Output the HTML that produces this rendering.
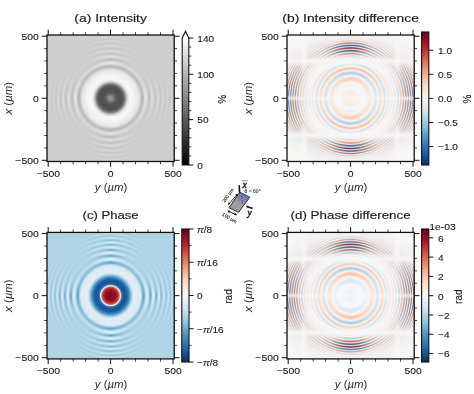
<!DOCTYPE html>
<html><head><meta charset="utf-8"><style>
html,body{margin:0;padding:0;background:#fff;width:474px;height:394px;overflow:hidden;position:relative}
svg{position:absolute;left:0;top:0}
text{font-family:'Liberation Sans', sans-serif;fill:#1a1a1a;stroke:#1a1a1a;stroke-width:0.12px}
.tt{stroke-width:0.15px}
.al{stroke-width:0;fill:#2a2a2a}
</style></head><body>
<canvas id="ca" width="128" height="127" style="position:absolute;left:47px;top:35px;width:128px;height:127px;background:radial-gradient(circle at 63.6px 63.25px,#969696 0,#5c5c5c 9px,#e8e8e8 19px,#f0f0f0 26px,#d0d0d0 34px,#cfcfcf 60px)"></canvas>
<canvas id="cb" width="128" height="127" style="position:absolute;left:287px;top:35px;width:128px;height:127px;background:radial-gradient(circle at 63.6px 63.25px,#f3eeee 0,#f5f1f0 14px,#f6dccd 20px,#d8e6f1 26px,#f7d6c5 31px,#f5f5f5 37px,#ebe3e8 47px,#e6dde6 52px,#f2eff2 60px,#f7f7f7 68px)"></canvas>
<canvas id="cc" width="128" height="127" style="position:absolute;left:47px;top:232px;width:128px;height:127px;background:radial-gradient(circle at 63.6px 63.25px,#b2182b 0,#b2182b 9px,#f7f7f7 11px,#2166ac 15px,#2166ac 20px,#e6eef5 27px,#b0d4e8 34px)"></canvas>
<canvas id="cd" width="128" height="127" style="position:absolute;left:287px;top:232px;width:128px;height:127px;background:radial-gradient(circle at 63.6px 63.25px,#f3eeee 0,#f5f1f0 14px,#f6dccd 20px,#d8e6f1 26px,#f7d6c5 31px,#f5f5f5 37px,#ebe3e8 47px,#e6dde6 52px,#f2eff2 60px,#f7f7f7 68px)"></canvas>
<svg width="474" height="394" viewBox="0 0 474 394">
<defs><linearGradient id="grb" x1="0" y1="0" x2="0" y2="1"><stop offset="0.00" stop-color="#67001f"/><stop offset="0.10" stop-color="#b2182b"/><stop offset="0.20" stop-color="#d6604d"/><stop offset="0.30" stop-color="#f4a582"/><stop offset="0.40" stop-color="#fddbc7"/><stop offset="0.50" stop-color="#f7f7f7"/><stop offset="0.60" stop-color="#d1e5f0"/><stop offset="0.70" stop-color="#92c5de"/><stop offset="0.80" stop-color="#4393c3"/><stop offset="0.90" stop-color="#2166ac"/><stop offset="1.00" stop-color="#053061"/></linearGradient><linearGradient id="ggr" x1="0" y1="0" x2="0" y2="1"><stop offset="0" stop-color="#fff"/><stop offset="1" stop-color="#000"/></linearGradient><linearGradient id="gbl" gradientUnits="userSpaceOnUse" x1="244.85" y1="194.7" x2="238.7" y2="203.5"><stop offset="0" stop-color="#5862c4" stop-opacity="0.8"/><stop offset="1" stop-color="#5862c4" stop-opacity="0.05"/></linearGradient><marker id="ah" viewBox="0 0 6 6" refX="5" refY="3" markerWidth="3" markerHeight="3" orient="auto-start-reverse"><path d="M0,0 L6,3 L0,6 z" fill="#111"/></marker></defs>
<line x1="48.20" y1="161.50" x2="48.20" y2="166.80" stroke="#111" stroke-width="1.0"/>
<line x1="48.20" y1="35.00" x2="48.20" y2="29.70" stroke="#111" stroke-width="1.0"/>
<line x1="47.00" y1="160.30" x2="41.70" y2="160.30" stroke="#111" stroke-width="1.0"/>
<line x1="174.20" y1="160.30" x2="179.50" y2="160.30" stroke="#111" stroke-width="1.0"/>
<line x1="60.68" y1="161.50" x2="60.68" y2="164.30" stroke="#111" stroke-width="0.8"/>
<line x1="60.68" y1="35.00" x2="60.68" y2="32.20" stroke="#111" stroke-width="0.8"/>
<line x1="47.00" y1="147.89" x2="44.20" y2="147.89" stroke="#111" stroke-width="0.8"/>
<line x1="174.20" y1="147.89" x2="177.00" y2="147.89" stroke="#111" stroke-width="0.8"/>
<line x1="73.16" y1="161.50" x2="73.16" y2="164.30" stroke="#111" stroke-width="0.8"/>
<line x1="73.16" y1="35.00" x2="73.16" y2="32.20" stroke="#111" stroke-width="0.8"/>
<line x1="47.00" y1="135.48" x2="44.20" y2="135.48" stroke="#111" stroke-width="0.8"/>
<line x1="174.20" y1="135.48" x2="177.00" y2="135.48" stroke="#111" stroke-width="0.8"/>
<line x1="85.64" y1="161.50" x2="85.64" y2="164.30" stroke="#111" stroke-width="0.8"/>
<line x1="85.64" y1="35.00" x2="85.64" y2="32.20" stroke="#111" stroke-width="0.8"/>
<line x1="47.00" y1="123.07" x2="44.20" y2="123.07" stroke="#111" stroke-width="0.8"/>
<line x1="174.20" y1="123.07" x2="177.00" y2="123.07" stroke="#111" stroke-width="0.8"/>
<line x1="98.12" y1="161.50" x2="98.12" y2="164.30" stroke="#111" stroke-width="0.8"/>
<line x1="98.12" y1="35.00" x2="98.12" y2="32.20" stroke="#111" stroke-width="0.8"/>
<line x1="47.00" y1="110.66" x2="44.20" y2="110.66" stroke="#111" stroke-width="0.8"/>
<line x1="174.20" y1="110.66" x2="177.00" y2="110.66" stroke="#111" stroke-width="0.8"/>
<line x1="110.60" y1="161.50" x2="110.60" y2="166.80" stroke="#111" stroke-width="1.0"/>
<line x1="110.60" y1="35.00" x2="110.60" y2="29.70" stroke="#111" stroke-width="1.0"/>
<line x1="47.00" y1="98.25" x2="41.70" y2="98.25" stroke="#111" stroke-width="1.0"/>
<line x1="174.20" y1="98.25" x2="179.50" y2="98.25" stroke="#111" stroke-width="1.0"/>
<line x1="123.08" y1="161.50" x2="123.08" y2="164.30" stroke="#111" stroke-width="0.8"/>
<line x1="123.08" y1="35.00" x2="123.08" y2="32.20" stroke="#111" stroke-width="0.8"/>
<line x1="47.00" y1="85.84" x2="44.20" y2="85.84" stroke="#111" stroke-width="0.8"/>
<line x1="174.20" y1="85.84" x2="177.00" y2="85.84" stroke="#111" stroke-width="0.8"/>
<line x1="135.56" y1="161.50" x2="135.56" y2="164.30" stroke="#111" stroke-width="0.8"/>
<line x1="135.56" y1="35.00" x2="135.56" y2="32.20" stroke="#111" stroke-width="0.8"/>
<line x1="47.00" y1="73.43" x2="44.20" y2="73.43" stroke="#111" stroke-width="0.8"/>
<line x1="174.20" y1="73.43" x2="177.00" y2="73.43" stroke="#111" stroke-width="0.8"/>
<line x1="148.04" y1="161.50" x2="148.04" y2="164.30" stroke="#111" stroke-width="0.8"/>
<line x1="148.04" y1="35.00" x2="148.04" y2="32.20" stroke="#111" stroke-width="0.8"/>
<line x1="47.00" y1="61.02" x2="44.20" y2="61.02" stroke="#111" stroke-width="0.8"/>
<line x1="174.20" y1="61.02" x2="177.00" y2="61.02" stroke="#111" stroke-width="0.8"/>
<line x1="160.52" y1="161.50" x2="160.52" y2="164.30" stroke="#111" stroke-width="0.8"/>
<line x1="160.52" y1="35.00" x2="160.52" y2="32.20" stroke="#111" stroke-width="0.8"/>
<line x1="47.00" y1="48.61" x2="44.20" y2="48.61" stroke="#111" stroke-width="0.8"/>
<line x1="174.20" y1="48.61" x2="177.00" y2="48.61" stroke="#111" stroke-width="0.8"/>
<line x1="173.00" y1="161.50" x2="173.00" y2="166.80" stroke="#111" stroke-width="1.0"/>
<line x1="173.00" y1="35.00" x2="173.00" y2="29.70" stroke="#111" stroke-width="1.0"/>
<line x1="47.00" y1="36.20" x2="41.70" y2="36.20" stroke="#111" stroke-width="1.0"/>
<line x1="174.20" y1="36.20" x2="179.50" y2="36.20" stroke="#111" stroke-width="1.0"/>
<rect x="47.00" y="35.00" width="127.20" height="126.50" fill="none" stroke="#111" stroke-width="1.3"/>
<g transform="translate(48.30,176.90) scale(1.07,1)"><text x="0" y="0" font-size="9.7" text-anchor="middle" >−500</text></g>
<g transform="translate(38.70,164.00) scale(1.07,1)"><text x="0" y="0" font-size="9.7" text-anchor="end" >−500</text></g>
<g transform="translate(110.70,176.90) scale(1.07,1)"><text x="0" y="0" font-size="9.7" text-anchor="middle" >0</text></g>
<g transform="translate(38.70,101.95) scale(1.07,1)"><text x="0" y="0" font-size="9.7" text-anchor="end" >0</text></g>
<g transform="translate(173.10,176.90) scale(1.07,1)"><text x="0" y="0" font-size="9.7" text-anchor="middle" >500</text></g>
<g transform="translate(38.70,39.90) scale(1.07,1)"><text x="0" y="0" font-size="9.7" text-anchor="end" >500</text></g>
<text x="111.10" y="190.90" font-size="10" text-anchor="middle" class="al" textLength="32.5" lengthAdjust="spacingAndGlyphs"><tspan font-style="italic">y</tspan> (<tspan font-style="italic">µm</tspan>)</text>
<g transform="translate(11.50,98.25) rotate(-90)"><text x="0" y="0" class="al" font-size="10" text-anchor="middle" textLength="32.5" lengthAdjust="spacingAndGlyphs"><tspan font-style="italic">x</tspan> (<tspan font-style="italic">µm</tspan>)</text></g>
<text x="110.60" y="21.70" font-size="11" text-anchor="middle" class="tt" textLength="72.5" lengthAdjust="spacingAndGlyphs">(a) Intensity</text>
<line x1="288.20" y1="161.50" x2="288.20" y2="166.80" stroke="#111" stroke-width="1.0"/>
<line x1="288.20" y1="35.00" x2="288.20" y2="29.70" stroke="#111" stroke-width="1.0"/>
<line x1="287.00" y1="160.30" x2="281.70" y2="160.30" stroke="#111" stroke-width="1.0"/>
<line x1="414.20" y1="160.30" x2="419.50" y2="160.30" stroke="#111" stroke-width="1.0"/>
<line x1="300.68" y1="161.50" x2="300.68" y2="164.30" stroke="#111" stroke-width="0.8"/>
<line x1="300.68" y1="35.00" x2="300.68" y2="32.20" stroke="#111" stroke-width="0.8"/>
<line x1="287.00" y1="147.89" x2="284.20" y2="147.89" stroke="#111" stroke-width="0.8"/>
<line x1="414.20" y1="147.89" x2="417.00" y2="147.89" stroke="#111" stroke-width="0.8"/>
<line x1="313.16" y1="161.50" x2="313.16" y2="164.30" stroke="#111" stroke-width="0.8"/>
<line x1="313.16" y1="35.00" x2="313.16" y2="32.20" stroke="#111" stroke-width="0.8"/>
<line x1="287.00" y1="135.48" x2="284.20" y2="135.48" stroke="#111" stroke-width="0.8"/>
<line x1="414.20" y1="135.48" x2="417.00" y2="135.48" stroke="#111" stroke-width="0.8"/>
<line x1="325.64" y1="161.50" x2="325.64" y2="164.30" stroke="#111" stroke-width="0.8"/>
<line x1="325.64" y1="35.00" x2="325.64" y2="32.20" stroke="#111" stroke-width="0.8"/>
<line x1="287.00" y1="123.07" x2="284.20" y2="123.07" stroke="#111" stroke-width="0.8"/>
<line x1="414.20" y1="123.07" x2="417.00" y2="123.07" stroke="#111" stroke-width="0.8"/>
<line x1="338.12" y1="161.50" x2="338.12" y2="164.30" stroke="#111" stroke-width="0.8"/>
<line x1="338.12" y1="35.00" x2="338.12" y2="32.20" stroke="#111" stroke-width="0.8"/>
<line x1="287.00" y1="110.66" x2="284.20" y2="110.66" stroke="#111" stroke-width="0.8"/>
<line x1="414.20" y1="110.66" x2="417.00" y2="110.66" stroke="#111" stroke-width="0.8"/>
<line x1="350.60" y1="161.50" x2="350.60" y2="166.80" stroke="#111" stroke-width="1.0"/>
<line x1="350.60" y1="35.00" x2="350.60" y2="29.70" stroke="#111" stroke-width="1.0"/>
<line x1="287.00" y1="98.25" x2="281.70" y2="98.25" stroke="#111" stroke-width="1.0"/>
<line x1="414.20" y1="98.25" x2="419.50" y2="98.25" stroke="#111" stroke-width="1.0"/>
<line x1="363.08" y1="161.50" x2="363.08" y2="164.30" stroke="#111" stroke-width="0.8"/>
<line x1="363.08" y1="35.00" x2="363.08" y2="32.20" stroke="#111" stroke-width="0.8"/>
<line x1="287.00" y1="85.84" x2="284.20" y2="85.84" stroke="#111" stroke-width="0.8"/>
<line x1="414.20" y1="85.84" x2="417.00" y2="85.84" stroke="#111" stroke-width="0.8"/>
<line x1="375.56" y1="161.50" x2="375.56" y2="164.30" stroke="#111" stroke-width="0.8"/>
<line x1="375.56" y1="35.00" x2="375.56" y2="32.20" stroke="#111" stroke-width="0.8"/>
<line x1="287.00" y1="73.43" x2="284.20" y2="73.43" stroke="#111" stroke-width="0.8"/>
<line x1="414.20" y1="73.43" x2="417.00" y2="73.43" stroke="#111" stroke-width="0.8"/>
<line x1="388.04" y1="161.50" x2="388.04" y2="164.30" stroke="#111" stroke-width="0.8"/>
<line x1="388.04" y1="35.00" x2="388.04" y2="32.20" stroke="#111" stroke-width="0.8"/>
<line x1="287.00" y1="61.02" x2="284.20" y2="61.02" stroke="#111" stroke-width="0.8"/>
<line x1="414.20" y1="61.02" x2="417.00" y2="61.02" stroke="#111" stroke-width="0.8"/>
<line x1="400.52" y1="161.50" x2="400.52" y2="164.30" stroke="#111" stroke-width="0.8"/>
<line x1="400.52" y1="35.00" x2="400.52" y2="32.20" stroke="#111" stroke-width="0.8"/>
<line x1="287.00" y1="48.61" x2="284.20" y2="48.61" stroke="#111" stroke-width="0.8"/>
<line x1="414.20" y1="48.61" x2="417.00" y2="48.61" stroke="#111" stroke-width="0.8"/>
<line x1="413.00" y1="161.50" x2="413.00" y2="166.80" stroke="#111" stroke-width="1.0"/>
<line x1="413.00" y1="35.00" x2="413.00" y2="29.70" stroke="#111" stroke-width="1.0"/>
<line x1="287.00" y1="36.20" x2="281.70" y2="36.20" stroke="#111" stroke-width="1.0"/>
<line x1="414.20" y1="36.20" x2="419.50" y2="36.20" stroke="#111" stroke-width="1.0"/>
<rect x="287.00" y="35.00" width="127.20" height="126.50" fill="none" stroke="#111" stroke-width="1.3"/>
<g transform="translate(288.30,176.90) scale(1.07,1)"><text x="0" y="0" font-size="9.7" text-anchor="middle" >−500</text></g>
<g transform="translate(278.70,164.00) scale(1.07,1)"><text x="0" y="0" font-size="9.7" text-anchor="end" >−500</text></g>
<g transform="translate(350.70,176.90) scale(1.07,1)"><text x="0" y="0" font-size="9.7" text-anchor="middle" >0</text></g>
<g transform="translate(278.70,101.95) scale(1.07,1)"><text x="0" y="0" font-size="9.7" text-anchor="end" >0</text></g>
<g transform="translate(413.10,176.90) scale(1.07,1)"><text x="0" y="0" font-size="9.7" text-anchor="middle" >500</text></g>
<g transform="translate(278.70,39.90) scale(1.07,1)"><text x="0" y="0" font-size="9.7" text-anchor="end" >500</text></g>
<text x="351.10" y="190.90" font-size="10" text-anchor="middle" class="al" textLength="32.5" lengthAdjust="spacingAndGlyphs"><tspan font-style="italic">y</tspan> (<tspan font-style="italic">µm</tspan>)</text>
<g transform="translate(251.50,98.25) rotate(-90)"><text x="0" y="0" class="al" font-size="10" text-anchor="middle" textLength="32.5" lengthAdjust="spacingAndGlyphs"><tspan font-style="italic">x</tspan> (<tspan font-style="italic">µm</tspan>)</text></g>
<text x="350.60" y="21.70" font-size="11" text-anchor="middle" class="tt" textLength="136.5" lengthAdjust="spacingAndGlyphs">(b) Intensity difference</text>
<line x1="48.20" y1="358.90" x2="48.20" y2="364.20" stroke="#111" stroke-width="1.0"/>
<line x1="48.20" y1="232.40" x2="48.20" y2="227.10" stroke="#111" stroke-width="1.0"/>
<line x1="47.00" y1="357.70" x2="41.70" y2="357.70" stroke="#111" stroke-width="1.0"/>
<line x1="174.20" y1="357.70" x2="179.50" y2="357.70" stroke="#111" stroke-width="1.0"/>
<line x1="60.68" y1="358.90" x2="60.68" y2="361.70" stroke="#111" stroke-width="0.8"/>
<line x1="60.68" y1="232.40" x2="60.68" y2="229.60" stroke="#111" stroke-width="0.8"/>
<line x1="47.00" y1="345.29" x2="44.20" y2="345.29" stroke="#111" stroke-width="0.8"/>
<line x1="174.20" y1="345.29" x2="177.00" y2="345.29" stroke="#111" stroke-width="0.8"/>
<line x1="73.16" y1="358.90" x2="73.16" y2="361.70" stroke="#111" stroke-width="0.8"/>
<line x1="73.16" y1="232.40" x2="73.16" y2="229.60" stroke="#111" stroke-width="0.8"/>
<line x1="47.00" y1="332.88" x2="44.20" y2="332.88" stroke="#111" stroke-width="0.8"/>
<line x1="174.20" y1="332.88" x2="177.00" y2="332.88" stroke="#111" stroke-width="0.8"/>
<line x1="85.64" y1="358.90" x2="85.64" y2="361.70" stroke="#111" stroke-width="0.8"/>
<line x1="85.64" y1="232.40" x2="85.64" y2="229.60" stroke="#111" stroke-width="0.8"/>
<line x1="47.00" y1="320.47" x2="44.20" y2="320.47" stroke="#111" stroke-width="0.8"/>
<line x1="174.20" y1="320.47" x2="177.00" y2="320.47" stroke="#111" stroke-width="0.8"/>
<line x1="98.12" y1="358.90" x2="98.12" y2="361.70" stroke="#111" stroke-width="0.8"/>
<line x1="98.12" y1="232.40" x2="98.12" y2="229.60" stroke="#111" stroke-width="0.8"/>
<line x1="47.00" y1="308.06" x2="44.20" y2="308.06" stroke="#111" stroke-width="0.8"/>
<line x1="174.20" y1="308.06" x2="177.00" y2="308.06" stroke="#111" stroke-width="0.8"/>
<line x1="110.60" y1="358.90" x2="110.60" y2="364.20" stroke="#111" stroke-width="1.0"/>
<line x1="110.60" y1="232.40" x2="110.60" y2="227.10" stroke="#111" stroke-width="1.0"/>
<line x1="47.00" y1="295.65" x2="41.70" y2="295.65" stroke="#111" stroke-width="1.0"/>
<line x1="174.20" y1="295.65" x2="179.50" y2="295.65" stroke="#111" stroke-width="1.0"/>
<line x1="123.08" y1="358.90" x2="123.08" y2="361.70" stroke="#111" stroke-width="0.8"/>
<line x1="123.08" y1="232.40" x2="123.08" y2="229.60" stroke="#111" stroke-width="0.8"/>
<line x1="47.00" y1="283.24" x2="44.20" y2="283.24" stroke="#111" stroke-width="0.8"/>
<line x1="174.20" y1="283.24" x2="177.00" y2="283.24" stroke="#111" stroke-width="0.8"/>
<line x1="135.56" y1="358.90" x2="135.56" y2="361.70" stroke="#111" stroke-width="0.8"/>
<line x1="135.56" y1="232.40" x2="135.56" y2="229.60" stroke="#111" stroke-width="0.8"/>
<line x1="47.00" y1="270.83" x2="44.20" y2="270.83" stroke="#111" stroke-width="0.8"/>
<line x1="174.20" y1="270.83" x2="177.00" y2="270.83" stroke="#111" stroke-width="0.8"/>
<line x1="148.04" y1="358.90" x2="148.04" y2="361.70" stroke="#111" stroke-width="0.8"/>
<line x1="148.04" y1="232.40" x2="148.04" y2="229.60" stroke="#111" stroke-width="0.8"/>
<line x1="47.00" y1="258.42" x2="44.20" y2="258.42" stroke="#111" stroke-width="0.8"/>
<line x1="174.20" y1="258.42" x2="177.00" y2="258.42" stroke="#111" stroke-width="0.8"/>
<line x1="160.52" y1="358.90" x2="160.52" y2="361.70" stroke="#111" stroke-width="0.8"/>
<line x1="160.52" y1="232.40" x2="160.52" y2="229.60" stroke="#111" stroke-width="0.8"/>
<line x1="47.00" y1="246.01" x2="44.20" y2="246.01" stroke="#111" stroke-width="0.8"/>
<line x1="174.20" y1="246.01" x2="177.00" y2="246.01" stroke="#111" stroke-width="0.8"/>
<line x1="173.00" y1="358.90" x2="173.00" y2="364.20" stroke="#111" stroke-width="1.0"/>
<line x1="173.00" y1="232.40" x2="173.00" y2="227.10" stroke="#111" stroke-width="1.0"/>
<line x1="47.00" y1="233.60" x2="41.70" y2="233.60" stroke="#111" stroke-width="1.0"/>
<line x1="174.20" y1="233.60" x2="179.50" y2="233.60" stroke="#111" stroke-width="1.0"/>
<rect x="47.00" y="232.40" width="127.20" height="126.50" fill="none" stroke="#111" stroke-width="1.3"/>
<g transform="translate(48.30,374.30) scale(1.07,1)"><text x="0" y="0" font-size="9.7" text-anchor="middle" >−500</text></g>
<g transform="translate(38.70,361.40) scale(1.07,1)"><text x="0" y="0" font-size="9.7" text-anchor="end" >−500</text></g>
<g transform="translate(110.70,374.30) scale(1.07,1)"><text x="0" y="0" font-size="9.7" text-anchor="middle" >0</text></g>
<g transform="translate(38.70,299.35) scale(1.07,1)"><text x="0" y="0" font-size="9.7" text-anchor="end" >0</text></g>
<g transform="translate(173.10,374.30) scale(1.07,1)"><text x="0" y="0" font-size="9.7" text-anchor="middle" >500</text></g>
<g transform="translate(38.70,237.30) scale(1.07,1)"><text x="0" y="0" font-size="9.7" text-anchor="end" >500</text></g>
<text x="111.10" y="388.30" font-size="10" text-anchor="middle" class="al" textLength="32.5" lengthAdjust="spacingAndGlyphs"><tspan font-style="italic">y</tspan> (<tspan font-style="italic">µm</tspan>)</text>
<g transform="translate(11.50,295.65) rotate(-90)"><text x="0" y="0" class="al" font-size="10" text-anchor="middle" textLength="32.5" lengthAdjust="spacingAndGlyphs"><tspan font-style="italic">x</tspan> (<tspan font-style="italic">µm</tspan>)</text></g>
<text x="110.60" y="219.10" font-size="11" text-anchor="middle" class="tt" textLength="56" lengthAdjust="spacingAndGlyphs">(c) Phase</text>
<line x1="288.20" y1="358.90" x2="288.20" y2="364.20" stroke="#111" stroke-width="1.0"/>
<line x1="288.20" y1="232.40" x2="288.20" y2="227.10" stroke="#111" stroke-width="1.0"/>
<line x1="287.00" y1="357.70" x2="281.70" y2="357.70" stroke="#111" stroke-width="1.0"/>
<line x1="414.20" y1="357.70" x2="419.50" y2="357.70" stroke="#111" stroke-width="1.0"/>
<line x1="300.68" y1="358.90" x2="300.68" y2="361.70" stroke="#111" stroke-width="0.8"/>
<line x1="300.68" y1="232.40" x2="300.68" y2="229.60" stroke="#111" stroke-width="0.8"/>
<line x1="287.00" y1="345.29" x2="284.20" y2="345.29" stroke="#111" stroke-width="0.8"/>
<line x1="414.20" y1="345.29" x2="417.00" y2="345.29" stroke="#111" stroke-width="0.8"/>
<line x1="313.16" y1="358.90" x2="313.16" y2="361.70" stroke="#111" stroke-width="0.8"/>
<line x1="313.16" y1="232.40" x2="313.16" y2="229.60" stroke="#111" stroke-width="0.8"/>
<line x1="287.00" y1="332.88" x2="284.20" y2="332.88" stroke="#111" stroke-width="0.8"/>
<line x1="414.20" y1="332.88" x2="417.00" y2="332.88" stroke="#111" stroke-width="0.8"/>
<line x1="325.64" y1="358.90" x2="325.64" y2="361.70" stroke="#111" stroke-width="0.8"/>
<line x1="325.64" y1="232.40" x2="325.64" y2="229.60" stroke="#111" stroke-width="0.8"/>
<line x1="287.00" y1="320.47" x2="284.20" y2="320.47" stroke="#111" stroke-width="0.8"/>
<line x1="414.20" y1="320.47" x2="417.00" y2="320.47" stroke="#111" stroke-width="0.8"/>
<line x1="338.12" y1="358.90" x2="338.12" y2="361.70" stroke="#111" stroke-width="0.8"/>
<line x1="338.12" y1="232.40" x2="338.12" y2="229.60" stroke="#111" stroke-width="0.8"/>
<line x1="287.00" y1="308.06" x2="284.20" y2="308.06" stroke="#111" stroke-width="0.8"/>
<line x1="414.20" y1="308.06" x2="417.00" y2="308.06" stroke="#111" stroke-width="0.8"/>
<line x1="350.60" y1="358.90" x2="350.60" y2="364.20" stroke="#111" stroke-width="1.0"/>
<line x1="350.60" y1="232.40" x2="350.60" y2="227.10" stroke="#111" stroke-width="1.0"/>
<line x1="287.00" y1="295.65" x2="281.70" y2="295.65" stroke="#111" stroke-width="1.0"/>
<line x1="414.20" y1="295.65" x2="419.50" y2="295.65" stroke="#111" stroke-width="1.0"/>
<line x1="363.08" y1="358.90" x2="363.08" y2="361.70" stroke="#111" stroke-width="0.8"/>
<line x1="363.08" y1="232.40" x2="363.08" y2="229.60" stroke="#111" stroke-width="0.8"/>
<line x1="287.00" y1="283.24" x2="284.20" y2="283.24" stroke="#111" stroke-width="0.8"/>
<line x1="414.20" y1="283.24" x2="417.00" y2="283.24" stroke="#111" stroke-width="0.8"/>
<line x1="375.56" y1="358.90" x2="375.56" y2="361.70" stroke="#111" stroke-width="0.8"/>
<line x1="375.56" y1="232.40" x2="375.56" y2="229.60" stroke="#111" stroke-width="0.8"/>
<line x1="287.00" y1="270.83" x2="284.20" y2="270.83" stroke="#111" stroke-width="0.8"/>
<line x1="414.20" y1="270.83" x2="417.00" y2="270.83" stroke="#111" stroke-width="0.8"/>
<line x1="388.04" y1="358.90" x2="388.04" y2="361.70" stroke="#111" stroke-width="0.8"/>
<line x1="388.04" y1="232.40" x2="388.04" y2="229.60" stroke="#111" stroke-width="0.8"/>
<line x1="287.00" y1="258.42" x2="284.20" y2="258.42" stroke="#111" stroke-width="0.8"/>
<line x1="414.20" y1="258.42" x2="417.00" y2="258.42" stroke="#111" stroke-width="0.8"/>
<line x1="400.52" y1="358.90" x2="400.52" y2="361.70" stroke="#111" stroke-width="0.8"/>
<line x1="400.52" y1="232.40" x2="400.52" y2="229.60" stroke="#111" stroke-width="0.8"/>
<line x1="287.00" y1="246.01" x2="284.20" y2="246.01" stroke="#111" stroke-width="0.8"/>
<line x1="414.20" y1="246.01" x2="417.00" y2="246.01" stroke="#111" stroke-width="0.8"/>
<line x1="413.00" y1="358.90" x2="413.00" y2="364.20" stroke="#111" stroke-width="1.0"/>
<line x1="413.00" y1="232.40" x2="413.00" y2="227.10" stroke="#111" stroke-width="1.0"/>
<line x1="287.00" y1="233.60" x2="281.70" y2="233.60" stroke="#111" stroke-width="1.0"/>
<line x1="414.20" y1="233.60" x2="419.50" y2="233.60" stroke="#111" stroke-width="1.0"/>
<rect x="287.00" y="232.40" width="127.20" height="126.50" fill="none" stroke="#111" stroke-width="1.3"/>
<g transform="translate(288.30,374.30) scale(1.07,1)"><text x="0" y="0" font-size="9.7" text-anchor="middle" >−500</text></g>
<g transform="translate(278.70,361.40) scale(1.07,1)"><text x="0" y="0" font-size="9.7" text-anchor="end" >−500</text></g>
<g transform="translate(350.70,374.30) scale(1.07,1)"><text x="0" y="0" font-size="9.7" text-anchor="middle" >0</text></g>
<g transform="translate(278.70,299.35) scale(1.07,1)"><text x="0" y="0" font-size="9.7" text-anchor="end" >0</text></g>
<g transform="translate(413.10,374.30) scale(1.07,1)"><text x="0" y="0" font-size="9.7" text-anchor="middle" >500</text></g>
<g transform="translate(278.70,237.30) scale(1.07,1)"><text x="0" y="0" font-size="9.7" text-anchor="end" >500</text></g>
<text x="351.10" y="388.30" font-size="10" text-anchor="middle" class="al" textLength="32.5" lengthAdjust="spacingAndGlyphs"><tspan font-style="italic">y</tspan> (<tspan font-style="italic">µm</tspan>)</text>
<g transform="translate(251.50,295.65) rotate(-90)"><text x="0" y="0" class="al" font-size="10" text-anchor="middle" textLength="32.5" lengthAdjust="spacingAndGlyphs"><tspan font-style="italic">x</tspan> (<tspan font-style="italic">µm</tspan>)</text></g>
<text x="350.60" y="219.10" font-size="11" text-anchor="middle" class="tt" textLength="120" lengthAdjust="spacingAndGlyphs">(d) Phase difference</text>
<rect x="182.2" y="38.0" width="6.60" height="127.00" fill="url(#ggr)"/>
<polygon points="182.2,38.0 185.5,31.3 188.8,38.0" fill="#fff"/>
<path d="M182.2,165.0 L182.2,38.0 L185.5,31.3 L188.8,38.0 L188.8,165.0 Z" fill="none" stroke="#111" stroke-width="1.1" stroke-linejoin="miter"/>
<line x1="188.80" y1="165.00" x2="193.30" y2="165.00" stroke="#111" stroke-width="1.0"/>
<line x1="188.80" y1="119.64" x2="193.30" y2="119.64" stroke="#111" stroke-width="1.0"/>
<line x1="188.80" y1="74.29" x2="193.30" y2="74.29" stroke="#111" stroke-width="1.0"/>
<line x1="188.80" y1="38.00" x2="193.30" y2="38.00" stroke="#111" stroke-width="1.0"/>
<line x1="188.80" y1="155.93" x2="191.30" y2="155.93" stroke="#111" stroke-width="0.8"/>
<line x1="188.80" y1="146.86" x2="191.30" y2="146.86" stroke="#111" stroke-width="0.8"/>
<line x1="188.80" y1="137.79" x2="191.30" y2="137.79" stroke="#111" stroke-width="0.8"/>
<line x1="188.80" y1="128.71" x2="191.30" y2="128.71" stroke="#111" stroke-width="0.8"/>
<line x1="188.80" y1="110.57" x2="191.30" y2="110.57" stroke="#111" stroke-width="0.8"/>
<line x1="188.80" y1="101.50" x2="191.30" y2="101.50" stroke="#111" stroke-width="0.8"/>
<line x1="188.80" y1="92.43" x2="191.30" y2="92.43" stroke="#111" stroke-width="0.8"/>
<line x1="188.80" y1="83.36" x2="191.30" y2="83.36" stroke="#111" stroke-width="0.8"/>
<line x1="188.80" y1="65.21" x2="191.30" y2="65.21" stroke="#111" stroke-width="0.8"/>
<line x1="188.80" y1="56.14" x2="191.30" y2="56.14" stroke="#111" stroke-width="0.8"/>
<line x1="188.80" y1="47.07" x2="191.30" y2="47.07" stroke="#111" stroke-width="0.8"/>
<g transform="translate(197.30,168.80) scale(1.04,1)"><text x="0" y="0" font-size="9.7" text-anchor="start" >0</text></g>
<g transform="translate(197.30,123.44) scale(1.04,1)"><text x="0" y="0" font-size="9.7" text-anchor="start" >50</text></g>
<g transform="translate(197.30,78.09) scale(1.04,1)"><text x="0" y="0" font-size="9.7" text-anchor="start" >100</text></g>
<g transform="translate(197.30,41.80) scale(1.04,1)"><text x="0" y="0" font-size="9.7" text-anchor="start" >140</text></g>
<rect x="421.6" y="32.0" width="7.20" height="133.00" fill="url(#grb)"/>
<rect x="421.6" y="32.0" width="7.20" height="133.00" fill="none" stroke="#111" stroke-width="1.1"/>
<line x1="428.80" y1="146.60" x2="433.30" y2="146.60" stroke="#111" stroke-width="1.0"/>
<line x1="428.80" y1="122.50" x2="433.30" y2="122.50" stroke="#111" stroke-width="1.0"/>
<line x1="428.80" y1="98.40" x2="433.30" y2="98.40" stroke="#111" stroke-width="1.0"/>
<line x1="428.80" y1="74.30" x2="433.30" y2="74.30" stroke="#111" stroke-width="1.0"/>
<line x1="428.80" y1="50.20" x2="433.30" y2="50.20" stroke="#111" stroke-width="1.0"/>
<g transform="translate(438.00,150.40) scale(1.04,1)"><text x="0" y="0" font-size="9.7" text-anchor="start" >−1.0</text></g>
<g transform="translate(438.00,126.30) scale(1.04,1)"><text x="0" y="0" font-size="9.7" text-anchor="start" >−0.5</text></g>
<g transform="translate(438.00,102.20) scale(1.04,1)"><text x="0" y="0" font-size="9.7" text-anchor="start" >0.0</text></g>
<g transform="translate(438.00,78.10) scale(1.04,1)"><text x="0" y="0" font-size="9.7" text-anchor="start" >0.5</text></g>
<g transform="translate(438.00,54.00) scale(1.04,1)"><text x="0" y="0" font-size="9.7" text-anchor="start" >1.0</text></g>
<rect x="181.8" y="229.0" width="7.20" height="133.00" fill="url(#grb)"/>
<rect x="181.8" y="229.0" width="7.20" height="133.00" fill="none" stroke="#111" stroke-width="1.1"/>
<line x1="189.00" y1="362.00" x2="193.50" y2="362.00" stroke="#111" stroke-width="1.0"/>
<line x1="189.00" y1="328.75" x2="193.50" y2="328.75" stroke="#111" stroke-width="1.0"/>
<line x1="189.00" y1="295.50" x2="193.50" y2="295.50" stroke="#111" stroke-width="1.0"/>
<line x1="189.00" y1="262.25" x2="193.50" y2="262.25" stroke="#111" stroke-width="1.0"/>
<line x1="189.00" y1="229.00" x2="193.50" y2="229.00" stroke="#111" stroke-width="1.0"/>
<line x1="189.00" y1="345.38" x2="191.50" y2="345.38" stroke="#111" stroke-width="0.8"/>
<line x1="189.00" y1="312.12" x2="191.50" y2="312.12" stroke="#111" stroke-width="0.8"/>
<line x1="189.00" y1="278.88" x2="191.50" y2="278.88" stroke="#111" stroke-width="0.8"/>
<line x1="189.00" y1="245.62" x2="191.50" y2="245.62" stroke="#111" stroke-width="0.8"/>
<g transform="translate(197.00,365.80) scale(1.04,1)"><text x="0" y="0" font-size="9.7" text-anchor="start" >−<tspan font-style="italic">π</tspan>/8</text></g>
<g transform="translate(197.00,332.55) scale(1.04,1)"><text x="0" y="0" font-size="9.7" text-anchor="start" >−<tspan font-style="italic">π</tspan>/16</text></g>
<g transform="translate(197.00,299.30) scale(1.04,1)"><text x="0" y="0" font-size="9.7" text-anchor="start" >0</text></g>
<g transform="translate(197.00,266.05) scale(1.04,1)"><text x="0" y="0" font-size="9.7" text-anchor="start" ><tspan font-style="italic">π</tspan>/16</text></g>
<g transform="translate(197.00,232.80) scale(1.04,1)"><text x="0" y="0" font-size="9.7" text-anchor="start" ><tspan font-style="italic">π</tspan>/8</text></g>
<rect x="421.6" y="229.0" width="7.20" height="133.00" fill="url(#grb)"/>
<rect x="421.6" y="229.0" width="7.20" height="133.00" fill="none" stroke="#111" stroke-width="1.1"/>
<line x1="428.80" y1="353.60" x2="433.30" y2="353.60" stroke="#111" stroke-width="1.0"/>
<line x1="428.80" y1="334.30" x2="433.30" y2="334.30" stroke="#111" stroke-width="1.0"/>
<line x1="428.80" y1="315.00" x2="433.30" y2="315.00" stroke="#111" stroke-width="1.0"/>
<line x1="428.80" y1="295.70" x2="433.30" y2="295.70" stroke="#111" stroke-width="1.0"/>
<line x1="428.80" y1="276.40" x2="433.30" y2="276.40" stroke="#111" stroke-width="1.0"/>
<line x1="428.80" y1="257.10" x2="433.30" y2="257.10" stroke="#111" stroke-width="1.0"/>
<line x1="428.80" y1="237.80" x2="433.30" y2="237.80" stroke="#111" stroke-width="1.0"/>
<g transform="translate(438.00,357.40) scale(1.04,1)"><text x="0" y="0" font-size="9.7" text-anchor="start" >−6</text></g>
<g transform="translate(438.00,338.10) scale(1.04,1)"><text x="0" y="0" font-size="9.7" text-anchor="start" >−4</text></g>
<g transform="translate(438.00,318.80) scale(1.04,1)"><text x="0" y="0" font-size="9.7" text-anchor="start" >−2</text></g>
<g transform="translate(438.00,299.50) scale(1.04,1)"><text x="0" y="0" font-size="9.7" text-anchor="start" >0</text></g>
<g transform="translate(438.00,280.20) scale(1.04,1)"><text x="0" y="0" font-size="9.7" text-anchor="start" >2</text></g>
<g transform="translate(438.00,260.90) scale(1.04,1)"><text x="0" y="0" font-size="9.7" text-anchor="start" >4</text></g>
<g transform="translate(438.00,241.60) scale(1.04,1)"><text x="0" y="0" font-size="9.7" text-anchor="start" >6</text></g>
<text x="429.30" y="229.80" font-size="9.7" text-anchor="start" textLength="26.5" lengthAdjust="spacingAndGlyphs">1e-03</text>
<g transform="translate(226.3,99.3) rotate(-90)"><text x="0" y="0" font-size="10" text-anchor="middle">%</text></g>
<g transform="translate(471.0,99.0) rotate(-90)"><text x="0" y="0" font-size="10" text-anchor="middle">%</text></g>
<g transform="translate(232.0,296.5) rotate(-90)"><text x="0" y="0" font-size="10" text-anchor="middle">rad</text></g>
<g transform="translate(461.9,296.7) rotate(-90)"><text x="0" y="0" font-size="10" text-anchor="middle">rad</text></g>
<polygon points="239.8,192.2 249.9,197.2 238.5,212.3 228.9,207.7" fill="#9e9e9e" stroke="#1a1a1a" stroke-width="0.9" stroke-linejoin="round"/>
<polygon points="239.8,192.2 249.9,197.2 243.6,205.5 234.6,200.7" fill="url(#gbl)"/>
<path d="M241.5,196 L242.5,204" stroke="#223" stroke-width="0.6" stroke-dasharray="1,1" fill="none"/>
<line x1="239.6" y1="192.8" x2="239.2" y2="185.2" stroke="#111" stroke-width="1.6"/>
<text x="244.6" y="188.3" font-size="9.5" text-anchor="middle" class="tt" style="font-family:'Liberation Serif',serif;font-style:italic;stroke-width:0.45px">x</text>
<line x1="241.8" y1="180.8" x2="247.8" y2="180.8" stroke="#333" stroke-width="0.6"/>
<text x="244.6" y="193.2" font-size="5" text-anchor="start" class="tt" style="fill:#5a68dc">θ = 60°</text>
<g transform="translate(228.0,195.3) rotate(-55)"><text x="0" y="1.6" font-size="4.8" text-anchor="middle" class="tt" style="fill:#444">200 µm</text></g>
<line x1="228.3" y1="204.6" x2="237.6" y2="194.0" stroke="#111" stroke-width="0.9" marker-start="url(#ah)" marker-end="url(#ah)"/>
<line x1="227.8" y1="210.9" x2="236.5" y2="214.9" stroke="#111" stroke-width="0.9" marker-start="url(#ah)" marker-end="url(#ah)"/>
<g transform="translate(229.6,218.0) rotate(30)"><text x="0" y="1.6" font-size="4.8" text-anchor="middle" class="tt" style="fill:#444">100 µm</text></g>
<line x1="246.3" y1="206.3" x2="252.6" y2="208.4" stroke="#111" stroke-width="1.6"/>
<text x="249.6" y="215.5" font-size="9.5" text-anchor="middle" class="tt" style="font-family:'Liberation Serif',serif;font-style:italic;stroke-width:0.45px">y</text>
<line x1="246.8" y1="207.6" x2="252.6" y2="207.6" stroke="#333" stroke-width="0.6"/>
</svg>
<script>
(function(){
function tab(pts){ // piecewise-linear with smoothstep between points
  return function(r){
    if(r<=pts[0][0]) return pts[0][1];
    for(var i=1;i<pts.length;i++){
      if(r<=pts[i][0]){
        var a=pts[i-1], b=pts[i], u=(r-a[0])/(b[0]-a[0]);
        u = u*u*(3-2*u);
        return a[1]+(b[1]-a[1])*u;
      }
    }
    return pts[pts.length-1][1];
  };
}
var RB=[[5,48,97],[33,102,172],[67,147,195],[146,197,222],[209,229,240],[247,247,247],[253,219,199],[244,165,130],[214,96,77],[178,24,43],[103,0,31]];
function rdbu(t){
  if(t<0)t=0; if(t>1)t=1;
  var s=t*10, i=Math.floor(s); if(i>=10)i=9; var u=s-i;
  var a=RB[i], b=RB[i+1];
  return [a[0]+(b[0]-a[0])*u, a[1]+(b[1]-a[1])*u, a[2]+(b[2]-a[2])*u];
}
var P=480, TAU=2*Math.PI;
function draw(id, cx, cy, fn){
  var cv=document.getElementById(id); if(!cv||!cv.getContext) return;
  var ctx=cv.getContext('2d'); var W=cv.width, H=cv.height;
  var left=parseFloat(cv.style.left), top=parseFloat(cv.style.top);
  var img=ctx.createImageData(W,H), d=img.data;
  var SS=3;
  for(var j=0;j<H;j++) for(var i=0;i<W;i++){
    var R=0,G=0,B=0;
    for(var sj=0;sj<SS;sj++) for(var si=0;si<SS;si++){
      var x=left+i+(si+0.5)/SS-cx, y=top+j+(sj+0.5)/SS-cy;
      var c=fn(x,y); R+=c[0];G+=c[1];B+=c[2];
    }
    var k=(j*W+i)*4, n=SS*SS;
    d[k]=R/n; d[k+1]=G/n; d[k+2]=B/n; d[k+3]=255;
  }
  ctx.putImageData(img,0,0);
}
// ---- (a) intensity
var Ca=tab([[0,150],[2,142],[4,108],[6,86],[9,78],[12,84],[14,118],[16,190],[17.5,232],[19.5,247],[24,243],[26,232],[28,216],[31,207],[200,207]]);
var Aa=tab([[0,0],[24,0],[27,10],[30,24],[33,28],[40,21],[46,14],[52,10],[58,7],[66,4],[80,2],[100,1]]);
function fa(x,y){
  var r2=x*x+y*y, r=Math.sqrt(r2);
  var s2=r>0? (2*x*y/r2):0; s2=s2*s2;
  var m=1-Math.min(Math.max((r-27)/12,0),0.95)*Math.pow(s2,0.35);
  var g=Ca(r)+Aa(r)*m*Math.cos(TAU*(r2-1000)/500+Math.PI);
  return [g,g,g];
}
// ---- (c) phase
var Cc=tab([[0,0.97],[5,0.94],[7.5,0.87],[8.7,0.8],[9.9,0.52],[11.1,0.15],[13,0.07],[16,0.08],[18.5,0.18],[20.5,0.3],[23,0.44],[26,0.46],[28,0.38],[30,0.348],[200,0.348]]);
var Ac=tab([[0,0],[24,0],[28,0.07],[32,0.12],[40,0.12],[50,0.085],[60,0.05],[90,0.015]]);
function fc(x,y){
  var r2=x*x+y*y, r=Math.sqrt(r2);
  var s2=r>0? (2*x*y/r2):0; s2=s2*s2;
  var m=1-Math.min(Math.max((r-27)/12,0),0.95)*Math.pow(s2,0.35);
  return rdbu(Cc(r)+Ac(r)*m*Math.cos(TAU*(r2-1089)/500+Math.PI));
}
// ---- (b),(d) differences
var Ein=tab([[0,-0.05],[6,-0.05],[10,0],[15,0.09],[22,0.15],[28,0.17],[33,0.11],[37,0],[42,0.03],[47,0.15],[53,0.2],[58,0.15],[64,0.06],[75,0]]);
var Et=tab([[0,0],[38,0],[40,0.05],[44,0.18],[48,0.3],[52,0.3],[55,0.2],[58,0.04],[61,-0.02],[65,0]]);
var Es=tab([[0,0],[40,0],[45,0.07],[50,0.13],[56,0.15],[63,0.15],[70,0.08],[80,0]]);
function sig(u){return 1/(1+Math.exp(-u));}
function mkdiff(ph){
  return function(x,y){
    var r2=x*x+y*y, r=Math.sqrt(r2)+1e-6;
    var av=Math.atan2(Math.abs(x),Math.abs(y)); // 0 at vertical
    var ah=Math.PI/2-av;
    var yy=(y*y)/(r*r);
    var rn=37+7*(1-yy), rho=r*37/rn;
    var e=Ein(rho);
    e*= rho>37 ? (0.8-0.2*yy) : (0.55+0.45*yy);
    var E=e + Et(r)*Math.exp(-(av/0.42)*(av/0.42)) + Es(r)*Math.exp(-(ah/0.5)*(ah/0.5));
    E*=1-0.55*Math.exp(-y*y/4);
    var ax=Math.abs(x), ay=Math.abs(y);
    E*=1-0.35*sig((ax-44)/2.5)*sig((ay-37)/2.5);
    E*=1-0.85*Math.exp(-(ax-47)*(ax-47)/8)*sig((ay-30)/2.5);
    E*=1-0.85*Math.exp(-(ay-37)*(ay-37)/8);
    return rdbu(0.5+E*Math.sin(TAU*r2/540+ph));
  };
}
draw('ca',110.6,98.25,fa);
draw('cb',350.6,98.25,mkdiff(3.607));
draw('cc',110.6,295.65,fc);
draw('cd',350.6,295.65,mkdiff(2.366));
})();

</script>
</body></html>
